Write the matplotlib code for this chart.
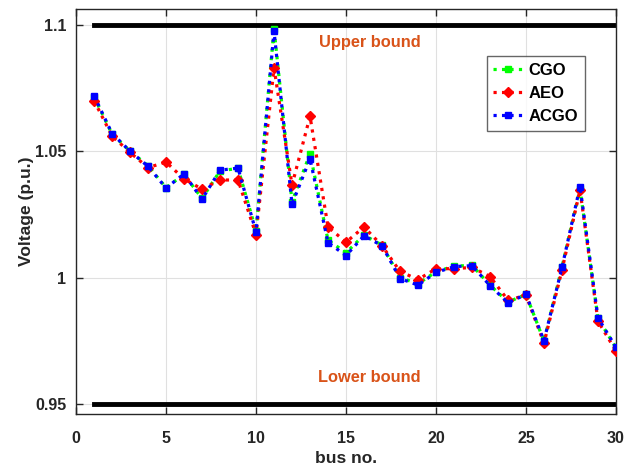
import matplotlib
matplotlib.use("Agg")
import matplotlib.pyplot as plt
import numpy as np

plt.rcParams['font.family'] = ['Liberation Sans', 'DejaVu Sans']

bus = list(range(1, 31))
acgo = [1.072, 1.057, 1.050, 1.044, 1.0354, 1.041, 1.031, 1.0425, 1.0433, 1.018,
        1.0976, 1.029, 1.047, 1.0138, 1.0087, 1.0165, 1.0126, 0.9996, 0.997, 1.002,
        1.0043, 1.0047, 0.9968, 0.990, 0.9933, 0.975, 1.004, 1.036, 0.984, 0.9724]
cgo = [1.0715, 1.0568, 1.050, 1.0442, 1.0356, 1.0408, 1.0313, 1.0422, 1.0432, 1.0185,
       1.0985, 1.030, 1.049, 1.0148, 1.0098, 1.0168, 1.0128, 1.0000, 0.9975, 1.0023,
       1.0045, 1.0048, 0.997, 0.9903, 0.9933, 0.9748, 1.0042, 1.035, 0.9838, 0.9722]
aeo = [1.070, 1.056, 1.0495, 1.0435, 1.0457, 1.039, 1.035, 1.0386, 1.0386, 1.017,
       1.083, 1.0366, 1.0638, 1.020, 1.014, 1.020, 1.0126, 1.0024, 0.9992, 1.0035,
       1.0035, 1.004, 1.0004, 0.991, 0.993, 0.974, 1.003, 1.0346, 0.9827, 0.9709]
upper_bound = 1.1
lower_bound = 0.95

fig = plt.figure(figsize=(6.39, 4.72), dpi=100)
ax = fig.add_axes([0.119, 0.123, 0.845, 0.858])

ax.plot([1, 30], [upper_bound, upper_bound], color='black', lw=3.5, zorder=2)
ax.plot([1, 30], [lower_bound, lower_bound], color='black', lw=3.5, zorder=2)

ax.plot(bus, cgo, linestyle=':', color='#00ff00', lw=2.3, marker='s', ms=5,
        mfc='#00ff00', mec='#00ff00', label='CGO', zorder=3)
ax.plot(bus, aeo, linestyle=':', color='red', lw=2.3, marker='D', ms=5,
        mfc='red', mec='red', label='AEO', zorder=4)
ax.plot(bus, acgo, linestyle=':', color='blue', lw=2.3, marker='s', ms=5,
        mfc='blue', mec='blue', label='ACGO', zorder=5)

ax.text(16.3, 1.0931, 'Upper bound', color='#D95319', fontsize=11.8, fontweight='bold',
        ha='center', va='center')
ax.text(16.3, 0.9604, 'Lower bound', color='#D95319', fontsize=11.8, fontweight='bold',
        ha='center', va='center')

ax.set_xlim(0, 30)
ax.set_ylim(0.946, 1.1063)
ax.set_xticks([0, 5, 10, 15, 20, 25, 30])
ax.set_yticks([0.95, 1.0, 1.05, 1.1])
ax.set_yticklabels(['0.95', '1', '1.05', '1.1'])
ax.grid(True, color='#e0e0e0', lw=0.8)
ax.set_axisbelow(True)
ax.tick_params(direction='in', top=True, right=True, length=5, width=1,
               labelsize=11.5, colors='#262626')
for lab in ax.get_xticklabels() + ax.get_yticklabels():
    lab.set_fontweight('bold')
ax.tick_params(axis='x', pad=12)
ax.tick_params(axis='y', pad=7)
for s in ax.spines.values():
    s.set_color('#262626')
    s.set_linewidth(1.0)

ax.set_xlabel('bus no.', fontsize=12.5, fontweight='bold', color='#262626', labelpad=4)
ax.set_ylabel('Voltage (p.u.)', fontsize=12.5, fontweight='bold', color='#262626', labelpad=1)

leg = ax.legend(loc='upper right', bbox_to_anchor=(0.942, 0.884), borderaxespad=0,
                prop={'weight': 'bold', 'size': 12}, frameon=True, fancybox=False,
                edgecolor='#404040', handlelength=1.8, borderpad=0.4, labelspacing=0.5,
                handletextpad=0.3)
leg.get_frame().set_linewidth(1.0)

fig.savefig('out.png', dpi=100)
